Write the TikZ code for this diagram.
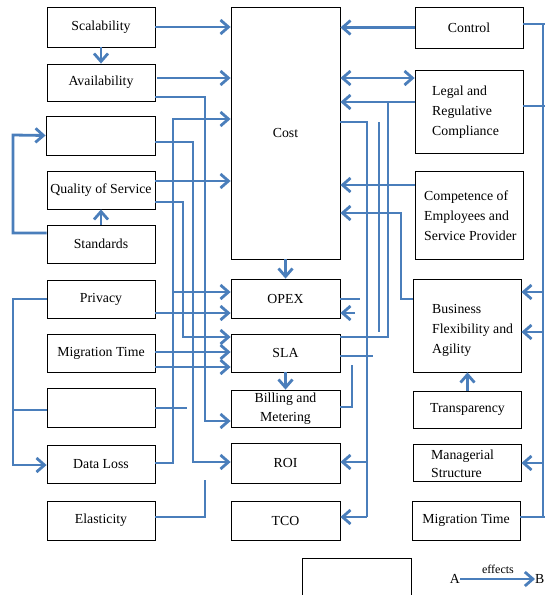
\documentclass[tikz,border=0pt]{standalone}
\usepackage{fontspec}
\setmainfont{Liberation Serif}
\usetikzlibrary{arrows.meta}
\definecolor{lnk}{RGB}{74,126,187}
\begin{document}
\begin{tikzpicture}[x=1pt,y=-1pt,
  box/.style={draw, line width=0.8pt, inner sep=0pt, minimum width=108pt, font=\fontsize{13.8}{20}\selectfont},
  txt/.style={font=\fontsize{13.8}{20}\selectfont, align=left, inner sep=0pt},
  link/.style={draw=lnk, line width=2.8pt},
  arr/.style={link, -{Straight Barb[length=8pt,width=14pt,line width=2.8pt]}},
  darr/.style={link, {Straight Barb[length=8pt,width=14pt,line width=2.8pt]}-{Straight Barb[length=8pt,width=14pt,line width=2.8pt]}}]
\useasboundingbox (0,0) rectangle (545,595);
% left column
\node[box, minimum height=40pt] (scal) at (101,27) {Scalability};
\node[box, minimum height=37pt] (avail) at (101,82.5) {Availability};
\node[box, minimum height=39pt, minimum width=109pt] (emptyA) at (100.5,135.5) {};
\node[box, minimum height=38pt] (qos) at (101,190) {Quality of Service};
\node[box, minimum height=38pt] (std) at (101,244) {Standards};
\node[box, minimum height=38pt] (priv) at (101,299) {Privacy};
\node[box, minimum height=38pt] (migL) at (101,353) {Migration Time};
\node[box, minimum height=39pt] (emptyB) at (101,407.5) {};
\node[box, minimum height=38pt] (dloss) at (101,464) {Data Loss};
\node[box, minimum height=39pt] (elas) at (101,520.5) {Elasticity};
% middle column
\node[box, minimum height=252pt, minimum width=109pt] (cost) at (285.5,133) {Cost};
\node[box, minimum height=39pt, minimum width=109pt] (opex) at (285.5,298.5) {OPEX};
\node[box, minimum height=38pt, minimum width=109pt] (sla) at (285.5,353) {SLA};
\node[box, minimum height=37pt, minimum width=109pt, align=center, font=\fontsize{13.8}{19}\selectfont] (bill) at (285.5,408.5) {Billing and\\Metering};
\node[box, minimum height=40pt, minimum width=109pt] (roi) at (285.5,463) {ROI};
\node[box, minimum height=39pt, minimum width=109pt] (tco) at (285.5,520.5) {TCO};
% right column
\node[box, minimum height=41pt] (ctrl) at (469,27.5) {Control};
\node[box, minimum height=83pt] (legal) at (469,111.5) {};
\node[txt, anchor=west] (legalt) at (432,112) {Legal and\\Regulative\\Compliance};
\node[box, minimum height=88pt] (comp) at (469,215) {};
\node[txt, anchor=west] (compt) at (424,216) {Competence of\\Employees and\\Service Provider};
\node[box, minimum height=93pt] (bus) at (467,325.5) {};
\node[txt, anchor=west] (bust) at (432,330) {Business\\Flexibility and\\Agility};
\node[box, minimum height=37pt] (transp) at (467.5,409.5) {Transparency};
\node[box, minimum height=37pt] (manag) at (467,462.5) {};
\node[txt, anchor=west, font=\fontsize{13.8}{18}\selectfont] (managt) at (431,464) {Managerial\\Structure};
\node[box, minimum height=39pt] (migR) at (466,520.5) {Migration Time};
% legend
\node[box, minimum height=42pt, minimum width=109pt] (leg) at (356.5,579) {};
\node[txt, anchor=east] (la) at (460,579) {A};
\node[txt, anchor=west] (lb) at (535,579) {B};
\node[txt, font=\fontsize{12}{14}\selectfont] (leff) at (498,569) {effects};
\draw[arr, line width=2.2pt] (la.east) -- (lb.west);
% ---- left connectors
\draw[arr] (scal.east) -- (cost.west |- scal.east);
\draw[arr] (scal.south) -- (avail.north);
\draw[arr] (157,78) -- (cost.west |- 0,78);
\draw[arr] (qos.east |- 0,181) -- (cost.west |- 0,181);
\draw[arr] (std.north) -- (qos.south);
\draw[arr] (std.west |- 0,233) -- (13,233) -- (13,135) -- (emptyA.west);
\draw[arr] (priv.west) -- (13,299) -- (13,465) -- (dloss.west |- 0,465);
\draw[link] (emptyB.west |- 0,410) -- (13,410);
\draw[arr] (avail.east |- 0,97) -- (205,97) -- (205,421) -- (bill.west |- 0,421);
\draw[arr] (emptyA.east |- 0,142) -- (193,142) -- (193,462) -- (roi.west |- 0,462);
\draw[arr] (qos.east |- 0,202) -- (183,202) -- (183,337) -- (sla.west |- 0,337);
\draw[arr] (dloss.east |- 0,463) -- (173,463) -- (173,119) -- (cost.west |- 0,119);
\draw[arr] (173,292) -- (opex.west |- 0,292);
\draw[arr] (priv.east |- 0,313) -- (opex.west |- 0,313);
\draw[arr] (migL.east |- 0,352) -- (sla.west |- 0,352);
\draw[arr] (migL.east |- 0,367) -- (sla.west |- 0,367);
\draw[link] (emptyB.east |- 0,408) -- (187,408);
\draw[link] (elas.east |- 0,517) -- (205,517) -- (205,480);
\draw[arr] (cost.south) -- (opex.north);
\draw[arr] (sla.south) -- (bill.north);
% ---- right connectors
\draw[arr] (ctrl.west) -- (cost.east |- ctrl.west);
\draw[darr] (cost.east |- 0,78) -- (legal.west |- 0,78);
\draw[arr] (legal.west |- 0,102) -- (cost.east |- 0,102);
\draw[arr] (comp.west |- 0,185) -- (cost.east |- 0,185);
\draw[arr] (bus.west |- 0,299) -- (401,299) -- (401,213) -- (cost.east |- 0,213);
\draw[link] (388,102) -- (388,337) -- (sla.east |- 0,337);
\draw[link] (379,122) -- (379,332);
\draw[link] (cost.east |- 0,122) -- (367,122) -- (367,517);
\draw[arr] (367,462) -- (roi.east |- 0,462);
\draw[arr] (367,517) -- (tco.east |- 0,517);
\draw[arr] (355,313) -- (opex.east |- 0,313);
\draw[link] (opex.east |- 0,299) -- (360,299);
\draw[link] (sla.east |- 0,356) -- (373,356);
\draw[link] (352,365) -- (352,407) -- (bill.east |- 0,407);
\draw[link] (ctrl.east |- 0,24) -- (545,24);
\draw[link] (legal.east |- 0,106) -- (545,106);
\draw[link] (543,24) -- (543,517);
\draw[arr] (543,292) -- (bus.east |- 0,292);
\draw[arr] (543,332) -- (bus.east |- 0,332);
\draw[arr] (543,463) -- (manag.east |- 0,463);
\draw[link] (migR.east |- 0,517) -- (545,517);
\draw[arr] (transp.north) -- (bus.south -| transp.north);
\end{tikzpicture}
\end{document}
